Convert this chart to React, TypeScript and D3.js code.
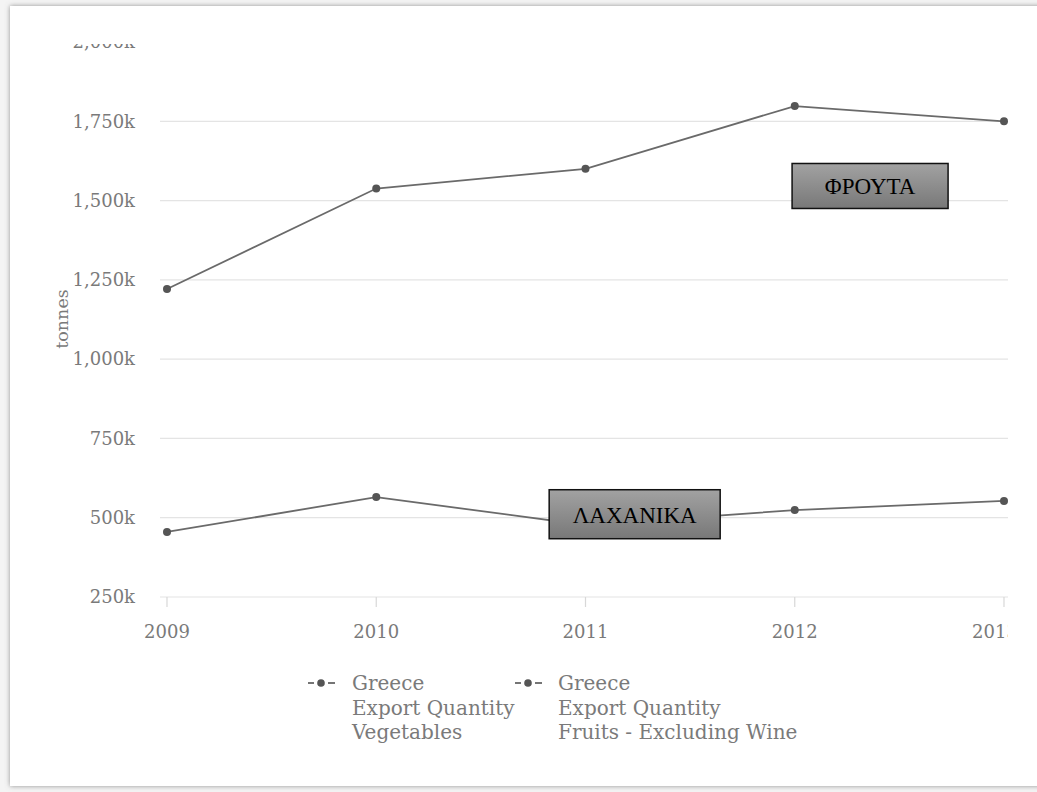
import React from "react";
import * as d3 from "d3";

const years = [2009, 2010, 2011, 2012, 2013];
const vegetables = [455000, 565000, 477000, 524000, 553000];
const fruits = [1221000, 1538000, 1600000, 1798000, 1750000];
const yTicks = [250000, 500000, 750000, 1000000, 1250000, 1500000, 1750000, 2000000];
const legendItems = [
  ["Greece", "Export Quantity", "Vegetables"],
  ["Greece", "Export Quantity", "Fruits - Excluding Wine"],
];
const annotations = [
  { text: "ΦΡΟΥΤΑ", year: 2012.36, value: 1546000 },
  { text: "ΛΑΧΑΝΙΚΑ", year: 2011.235, value: 511000 },
];

const W = 1037;
const H = 792;
const CLIP_RIGHT = 1008;

export default function App() {
  const x = d3.scaleLinear().domain([2009, 2013]).range([167, 1004]);
  const y = d3.scaleLinear().domain([250000, 2000000]).range([597, 42]);
  const fmt = (v: number) => d3.format(",")(v / 1000) + "k";
  const line = d3
    .line<number>()
    .x((_, i) => x(years[i]))
    .y((d) => y(d));
  const series = [vegetables, fruits];
  const serif = "'DejaVu Serif', serif";
  const grey = "#7a7a7a";

  return (
    <svg
      width={W}
      height={H}
      style={{ position: "absolute", left: 0, top: 0, display: "block" }}
    >
      <defs>
        <filter id="sh" x="-5%" y="-5%" width="110%" height="110%">
          <feDropShadow dx="0" dy="0" stdDeviation="2.5" floodColor="#777" floodOpacity="0.8" />
        </filter>
        <clipPath id="clip">
          <rect x={0} y={44} width={CLIP_RIGHT} height={H} />
        </clipPath>
        <linearGradient id="boxg" x1="0" y1="0" x2="0" y2="1">
          <stop offset="0%" stopColor="#a2a2a2" />
          <stop offset="100%" stopColor="#787878" />
        </linearGradient>
      </defs>
      <rect x={0} y={0} width={W} height={H} fill="#f4f4f4" />
      <rect x={10} y={6} width={1100} height={780} fill="#fff" filter="url(#sh)" />
      <g clipPath="url(#clip)">
        {yTicks.map((t) => (
          <g key={t}>
            <line x1={160} x2={CLIP_RIGHT} y1={y(t)} y2={y(t)} stroke="#e4e4e4" strokeWidth={1.2} />
            <text
              x={135}
              y={y(t)}
              dy="0.35em"
              textAnchor="end"
              fontFamily={serif}
              fontSize={18}
              fill={grey}
            >
              {fmt(t)}
            </text>
          </g>
        ))}
        {years.map((yr) => (
          <g key={yr}>
            <line x1={x(yr)} x2={x(yr)} y1={597} y2={607} stroke="#d8d8d8" strokeWidth={1.2} />
            <text
              x={Math.min(x(yr), CLIP_RIGHT - 13)}
              y={632}
              dy="0.35em"
              textAnchor="middle"
              fontFamily={serif}
              fontSize={18}
              fill={grey}
            >
              {yr}
            </text>
          </g>
        ))}
        {series.map((s, si) => (
          <g key={si}>
            <path d={line(s) || ""} fill="none" stroke="#6a6a6a" strokeWidth={1.8} />
            {s.map((v, i) => (
              <circle key={i} cx={x(years[i])} cy={y(v)} r={4} fill="#555" />
            ))}
          </g>
        ))}
      </g>
      <text
        transform="translate(62,319) rotate(-90)"
        dy="0.35em"
        textAnchor="middle"
        fontFamily={serif}
        fontSize={17.5}
        fill={grey}
      >
        tonnes
      </text>
      {legendItems.map((lines, li) => {
        const lx = li === 0 ? 308 : 515;
        const tx = li === 0 ? 352 : 558;
        return (
          <g key={li}>
            <line x1={lx} x2={lx + 6} y1={683} y2={683} stroke="#666" strokeWidth={1.8} />
            <line x1={lx + 20} x2={lx + 27} y1={683} y2={683} stroke="#666" strokeWidth={1.8} />
            <circle cx={lx + 13} cy={683} r={3.8} fill="#555" />
            {lines.map((t, k) => (
              <text
                key={k}
                x={tx}
                y={683 + k * 24.5}
                dy="0.35em"
                fontFamily={serif}
                fontSize={20}
                fill={grey}
              >
                {t}
              </text>
            ))}
          </g>
        );
      })}
      {annotations.map((a, i) => {
        const cx = x(a.year);
        const cy = y(a.value);
        const w = i === 0 ? 156 : 171;
        const h = i === 0 ? 45 : 49;
        return (
          <g key={i}>
            <rect
              x={cx - w / 2}
              y={cy - h / 2}
              width={w}
              height={h}
              fill="url(#boxg)"
              stroke="#111"
              strokeWidth={1.5}
            />
            <text
              x={cx}
              y={cy}
              dy="0.36em"
              textAnchor="middle"
              fontFamily="'Liberation Serif', 'Times New Roman', serif"
              fontSize={23}
              fill="#000"
            >
              {a.text}
            </text>
          </g>
        );
      })}
    </svg>
  );
}
